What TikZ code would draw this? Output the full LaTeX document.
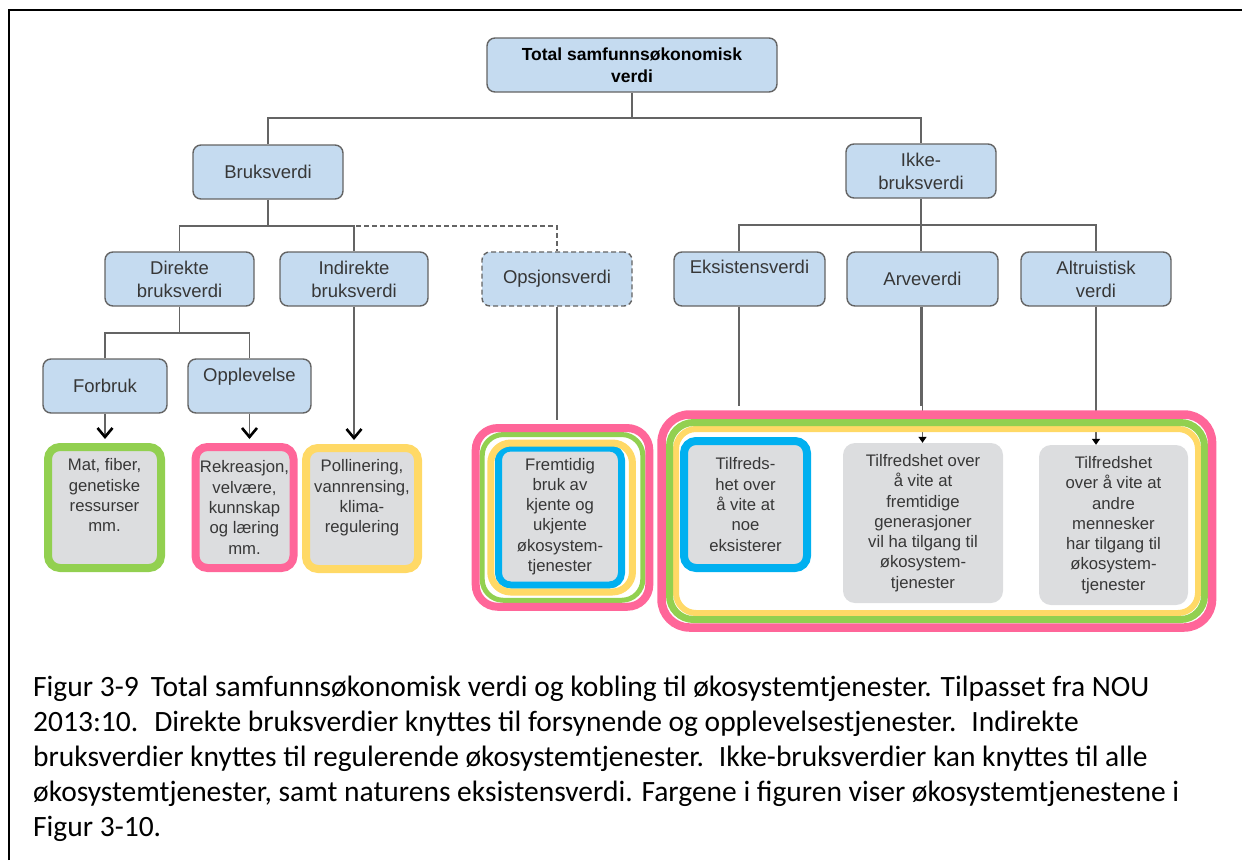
\documentclass[tikz,border=0pt]{standalone}
\usepackage{fontspec}
\setmainfont{Carlito}
\newfontfamily\diagfont{Liberation Sans}
\usetikzlibrary{arrows.meta}

\definecolor{valblue}{RGB}{197,219,240}
\definecolor{linegray}{RGB}{100,100,100}
\definecolor{svcgray}{RGB}{220,221,223}
\definecolor{txtgray}{RGB}{55,55,55}
\definecolor{esgreen}{RGB}{146,208,80}
\definecolor{espink}{RGB}{255,102,153}
\definecolor{esyellow}{RGB}{255,217,102}
\definecolor{esblue}{RGB}{0,176,240}

\begin{document}
\begin{tikzpicture}[x=1pt,y=-1pt,
    valbox/.style={draw=linegray, line width=1.4pt, fill=valblue, rounded corners=8pt,
      minimum width=150pt, minimum height=54pt, inner sep=1pt, align=center, text=txtgray,
      font=\diagfont\fontsize{18.5}{23}\selectfont},
    svcbox/.style={fill=svcgray, rounded corners=12pt, inner sep=0pt, align=center,
      text=txtgray, font=\diagfont\fontsize{16.7}{20.3}\selectfont},
    esring/.style={svcbox, draw=#1, line width=8pt},
    grpring/.style={draw=#1, rounded corners=20pt},
    tree/.style={draw=linegray, line width=1.3pt},
    barb/.style={tree, shorten >=4pt, -{Straight Barb[color=black, length=9pt, width=15pt, line width=2.6pt]}},
    tiny/.style={tree, -{Triangle[color=black, length=6pt, width=8pt]}}]
\useasboundingbox (0,0) rectangle (1242,860);

% frame
\draw[line width=2.6pt] (9,860) -- (9,10) -- (1242,10);

% values
\node[valbox, minimum width=290pt, text=black, font=\diagfont\bfseries\fontsize{17.5}{22}\selectfont]
  (top) at (632,65) {Total samfunnsøkonomisk\\verdi};
\node[valbox] (bruk) at (268,172) {Bruksverdi};
\node[valbox] (ikke) at (921,171) {Ikke-\\bruksverdi};
\node[valbox, minimum width=149pt] (direkte) at (179.5,279) {Direkte\\bruksverdi};
\node[valbox, minimum width=148pt] (indirekte) at (354,279) {Indirekte\\bruksverdi};
\node[valbox, dash pattern=on 5pt off 3pt] (opsjon) at (557,279) {Opsjonsverdi};
\node[valbox, minimum width=151pt, text height=13pt, text depth=24pt] (eksist) at (749.5,279) {Eksistensverdi};
\node[valbox, minimum width=151pt] (arve) at (922.5,279) {Arveverdi};
\node[valbox] (altru) at (1096,279) {Altruistisk\\verdi};
\node[valbox, minimum width=124pt] (forbruk) at (105,386) {Forbruk};
\node[valbox, minimum width=123pt, text height=13pt, text depth=22pt] (opplev) at (249.5,386) {Opplevelse};

% ecosystem services
\node[esring=esgreen, minimum width=113pt, minimum height=121pt] (mat) at (104.5,507.5)
  {Mat, fiber,\\genetiske\\ressurser\\mm.\\[4pt]};
\node[esring=espink, minimum width=98pt, minimum height=121pt] (rekr) at (244.5,507.5)
  {Rekreasjon,\\velvære,\\kunnskap\\og læring\\mm.};
\node[esring=esyellow, minimum width=112pt, minimum height=121pt] (poll) at (362,508.5)
  {Pollinering,\\vannrensing,\\klima-\\regulering\\[4pt]};
\node[esring=esblue, line width=7pt, minimum width=123pt, minimum height=137pt] (fremt) at (560,516.5)
  {Fremtidig\\bruk av\\kjente og\\ukjente\\økosystem-\\tjenester};
\node[esring=esblue, minimum width=123pt, minimum height=127pt] (tilf) at (745.5,504.5)
  {Tilfreds-\\het over\\å vite at\\noe\\eksisterer};
\node[svcbox, minimum width=160pt, minimum height=160pt] (arvetxt) at (923,523)
  {Tilfredshet over\\å vite at\\fremtidige\\generasjoner\\vil ha tilgang til\\økosystem-\\tjenester};
\node[svcbox, minimum width=149pt, minimum height=160pt] (altrutxt) at (1113.5,525)
  {Tilfredshet\\over å vite at\\andre\\mennesker\\har tilgang til\\økosystem-\\tjenester};

% tree
\coordinate (jtop) at (632,118);
\coordinate (jbruk) at (268,226);
\coordinate (jikke) at (921,225);
\coordinate (jeks) at (739,225);
\coordinate (jdir) at (179.5,333);
\draw[tree] (top) -- (jtop);
\draw[tree] (bruk) |- (jtop) -| (ikke);
\draw[tree] (bruk) -- (jbruk);
\draw[tree] (direkte) |- (jbruk) -| (indirekte);
\draw[tree, dash pattern=on 5pt off 3pt] (jbruk) -| (opsjon);
\draw[tree] (ikke) -- (jikke);
\draw[tree] (eksist.north -| jeks) -- (jeks) -- (jikke) -| (altru);
\draw[tree] (jikke) -- (jikke |- arve.north);
\draw[tree] (direkte) -- (jdir);
\draw[tree] (forbruk) |- (jdir) -| (opplev);
\draw[barb] (forbruk) -- (forbruk |- mat.north);
\draw[barb] (opplev) -- (opplev |- rekr.north);
\draw[barb] (indirekte) -- (indirekte |- poll.north);
\draw[tiny] (arve) -- (arve |- arvetxt.north);
\draw[tiny] (altru) -- (altru |- altrutxt.north);

% groups
\node[grpring=esyellow, line width=7pt, minimum width=141.7pt, minimum height=149pt] (opsyel) at (561.6,517.5) {};
\node[grpring=esgreen, line width=5pt, minimum width=160.6pt, minimum height=165.7pt, rounded corners=21pt] (opsgrn) at (562.5,517.4) {};
\node[grpring=espink, line width=8pt, minimum width=173.6pt, minimum height=178.7pt, rounded corners=22pt] (opspink) at (562.5,517.4) {};
\node[grpring=esyellow, line width=6pt, minimum width=522pt, minimum height=184pt, rounded corners=20pt] (bigyel) at (937,521) {};
\node[grpring=esgreen, line width=7pt, minimum width=535pt, minimum height=197pt, rounded corners=24pt] (biggrn) at (937,521) {};
\node[grpring=espink, line width=8.5pt, minimum width=550.5pt, minimum height=213pt, rounded corners=28pt] (bigpink) at (936.8,521) {};
\draw[tree, shorten >=4pt] (opsjon) -- (opsjon |- opspink.north);
\draw[tree, shorten >=4pt] (eksist.south -| jeks) -- (jeks |- bigpink.north);
\draw[tree, shorten >=4pt] (arve.south -| jikke) -- (jikke |- bigpink.north);
\draw[tree, shorten >=4pt] (altru) -- (altru |- bigpink.north);

% caption
\node[anchor=north west, inner sep=0pt, align=left, font=\fontsize{29.5}{35}\selectfont] (caption) at (33,676)
  {Figur 3-9\hspace{12pt}Total samfunnsøkonomisk verdi og kobling til økosystemtjenester. Tilpasset fra NOU\\
   2013:10.\hspace{16pt}Direkte bruksverdier knyttes til forsynende og opplevelsestjenester.\hspace{6pt} Indirekte\\
   bruksverdier knyttes til regulerende økosystemtjenester.\hspace{6pt} Ikke-bruksverdier kan knyttes til alle\\
   økosystemtjenester, samt naturens eksistensverdi. Fargene i figuren viser økosystemtjenestene i\\
   Figur 3-10.};
\end{tikzpicture}
\end{document}
